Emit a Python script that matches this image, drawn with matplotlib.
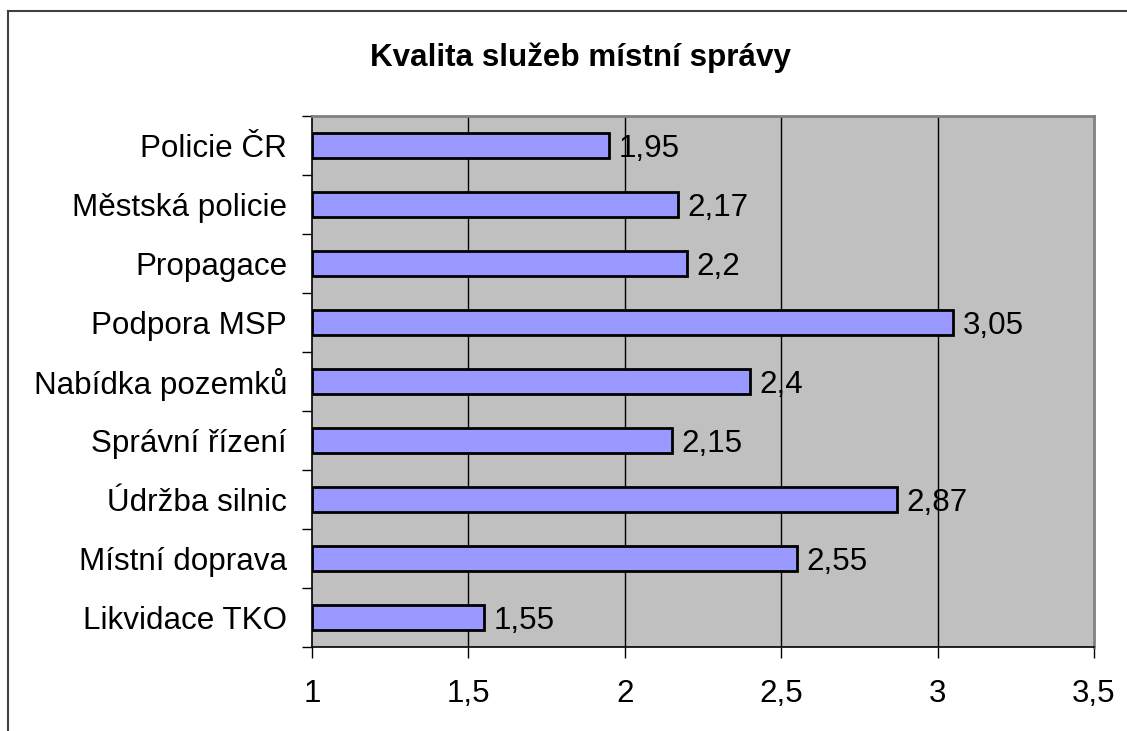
import matplotlib
matplotlib.use("Agg")
import matplotlib.pyplot as plt
from matplotlib.lines import Line2D
import numpy as np

plt.rcParams['font.family'] = ['Liberation Sans', 'DejaVu Sans']

title = "Kvalita služeb místní správy"
categories = ["Likvidace TKO", "Místní doprava", "Údržba silnic", "Správní řízení",
              "Nabídka pozemků", "Podpora MSP", "Propagace", "Městská policie", "Policie ČR"]
values = [1.55, 2.55, 2.87, 2.15, 2.4, 3.05, 2.2, 2.17, 1.95]
value_labels = ["1,55", "2,55", "2,87", "2,15", "2,4", "3,05", "2,2", "2,17", "1,95"]
xticks = [1, 1.5, 2, 2.5, 3, 3.5]
xtick_labels = ["1", "1,5", "2", "2,5", "3", "3,5"]

W, H = 1127, 731
FS = 22.6
fig = plt.figure(figsize=(W / 100, H / 100), dpi=100)
ax = fig.add_axes([312 / W, 1 - 647 / H, (1094 - 312) / W, (647 - 116) / H])
ax.set_facecolor("#C0C0C0")

y = np.arange(len(categories))
base = xticks[0]
ax.barh(y, [v - base for v in values], left=base, height=0.42,
        color="#9999FF", edgecolor="black", linewidth=2.0, zorder=3)

ax.set_xlim(xticks[0], xticks[-1])
ax.set_ylim(-0.5, len(categories) - 0.5)

for yi, v, lab in zip(y, values, value_labels):
    ax.text(v + 0.03, yi, lab, va="center_baseline", ha="left", fontsize=FS, zorder=4)

# grid
for xv in xticks[1:-1]:
    ax.axvline(xv, color="black", linewidth=1.0, zorder=1)

ax.set_xticks(xticks)
ax.set_xticklabels(xtick_labels, fontsize=FS)
ax.tick_params(axis="x", length=8, width=1.0, pad=15, direction="out")

ax.set_yticks(y)
ax.set_yticklabels(categories, fontsize=FS)
ax.tick_params(axis="y", which="major", length=0, pad=18)
ax.set_yticks(np.arange(-0.5, len(categories), 1.0), minor=True)
ax.tick_params(axis="y", which="minor", length=7, width=1.0, direction="out")

for s in ["top", "right"]:
    ax.spines[s].set_color("#808080")
    ax.spines[s].set_linewidth(2.0)
for s in ["left", "bottom"]:
    ax.spines[s].set_color("black")
    ax.spines[s].set_linewidth(1.2)

fig.text(580 / W, 1 - 58 / H, title, ha="center", va="center",
         fontsize=FS, fontweight="bold")

# outer chart frame (left and top edges visible)
fig.add_artist(Line2D([8 / W, 8 / W], [0, 1 - 11 / H], transform=fig.transFigure,
                      color="#404040", linewidth=1.5))
fig.add_artist(Line2D([8 / W, 1], [1 - 11 / H, 1 - 11 / H], transform=fig.transFigure,
                      color="#404040", linewidth=1.5))

fig.savefig("out.png", dpi=100)
